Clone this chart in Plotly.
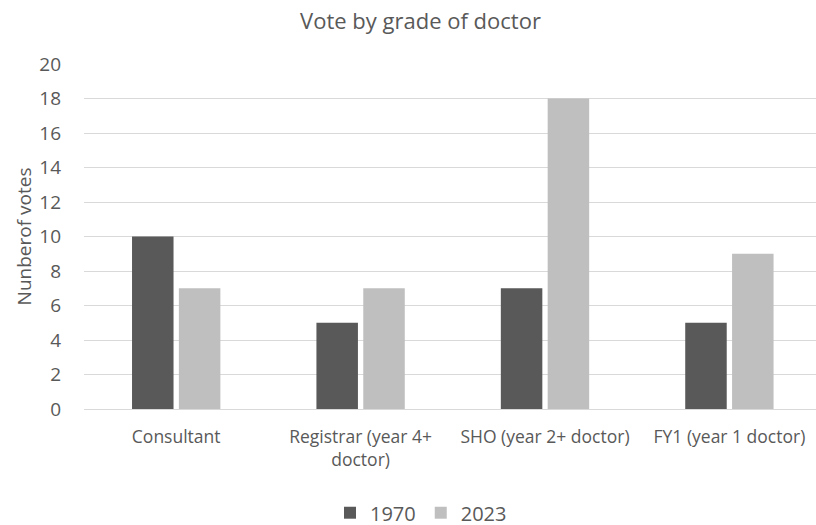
import plotly.graph_objects as go

categories = ["Consultant", "Registrar (year 4+<br>doctor)", "SHO (year 2+ doctor)", "FY1 (year 1 doctor)"]
votes_1970 = [10, 5, 7, 5]
votes_2023 = [7, 7, 18, 9]
y_ticks = [0, 2, 4, 6, 8, 10, 12, 14, 16, 18, 20]

FONT = "'Open Sans', Lato, sans-serif"
TXT = "#595959"

fig = go.Figure()
fig.add_trace(go.Bar(name="1970", x=categories, y=votes_1970,
                     marker=dict(color="#595959", line=dict(width=0))))
fig.add_trace(go.Bar(name="2023", x=categories, y=votes_2023,
                     marker=dict(color="#BFBFBF", line=dict(width=0))))

L, R = 84, 816
plot_top, plot_bot = 64.3, 409.3
cat_w = 184.4
xmax = (R - L) / cat_w - 0.5

fig.update_layout(
    width=816, height=525,
    margin=dict(l=L, r=816 - R, t=plot_top, b=525 - plot_bot, autoexpand=False),
    paper_bgcolor="white", plot_bgcolor="white",
    font=dict(family=FONT, color=TXT, size=17),
    barmode="group", bargap=0.492, bargroupgap=0.114,
    title=dict(text="Vote by grade of doctor", x=420.5 / 816, xanchor="center",
               y=1 - 21 / 525, yanchor="middle", xref="container", yref="container",
               font=dict(size=22, color=TXT, family=FONT)),
    showlegend=True,
    legend=dict(orientation="h", x=(421 - L) / (R - L), xanchor="center",
                y=(plot_bot - 513) / (plot_bot - plot_top), yanchor="middle",
                font=dict(size=20, color=TXT, family=FONT), itemwidth=30,
                bgcolor="rgba(0,0,0,0)"),
)
fig.update_xaxes(type="category", range=[-0.5, xmax], showgrid=False, automargin=False,
                 showline=True, linecolor="#D9D9D9", linewidth=1,
                 ticks="", tickfont=dict(size=17.5, color=TXT, family=FONT),
                 ticklabelstandoff=12, fixedrange=True)
fig.update_yaxes(range=[0, 20], tickvals=y_ticks, showgrid=True, gridcolor="#D9D9D9",
                 gridwidth=1, zeroline=False, showline=False, ticks="", automargin=False,
                 tickfont=dict(size=19, color=TXT, family=FONT), ticklabelstandoff=22,
                 title=dict(text="Nunberof votes", font=dict(size=19, color=TXT, family=FONT),
                            standoff=2), fixedrange=True)

fig.write_html("out.html")
